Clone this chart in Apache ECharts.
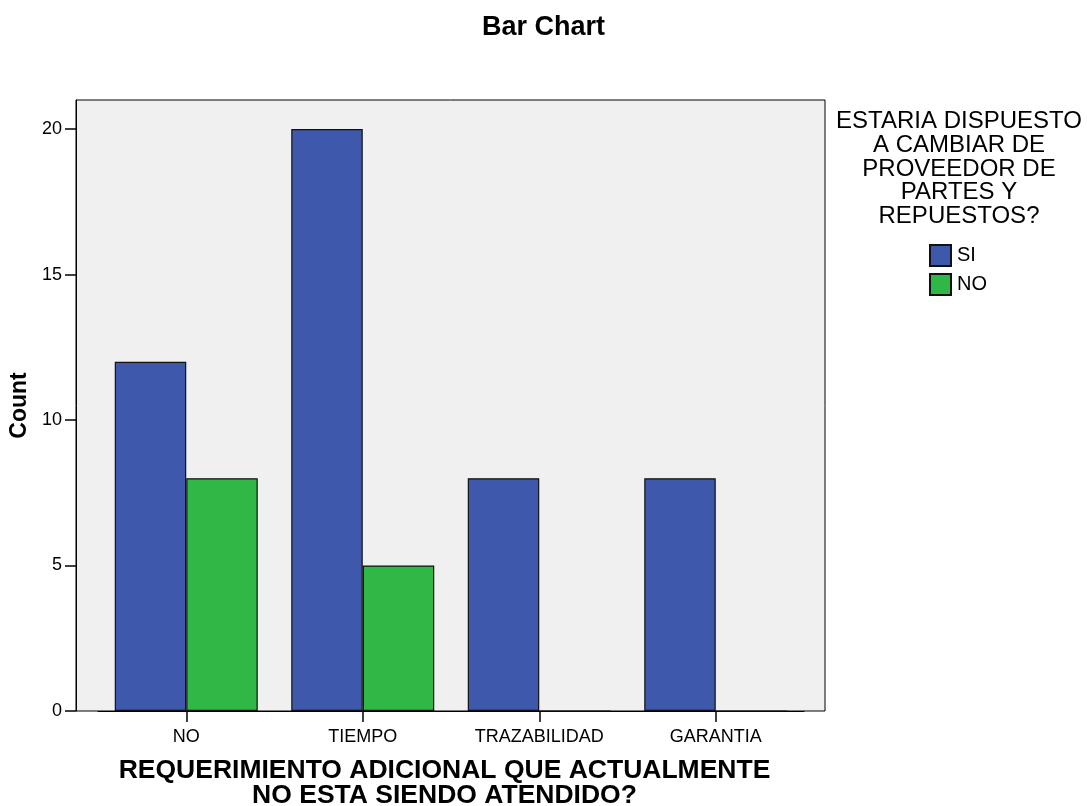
<!DOCTYPE html>
<html>
<head>
<meta charset="utf-8">
<style>html,body{margin:0;padding:0;background:#fff}#c{width:1087px;height:806px}</style>
<script src="https://cdn.jsdelivr.net/npm/echarts@6/dist/echarts.min.js"></script>
</head>
<body>
<div id="c"></div>
<script>
const categories = ['NO', 'TIEMPO', 'TRAZABILIDAD', 'GARANTIA'];
const seriesNames = ['SI', 'NO'];
const valuesSI = [12, 20, 8, 8];
const valuesNO = [8, 5, 0, 0];
const yTicks = [0, 5, 10, 15, 20];
const FONT = 'Liberation Sans, Arial, Helvetica, sans-serif';

const chart = echarts.init(document.getElementById('c'));
chart.setOption({
  animation: false,
  backgroundColor: '#fff',
  title: [
    { text: 'Bar Chart', left: 'center', top: 14, padding: 0,
      textStyle: { fontFamily: FONT, fontSize: 27, fontWeight: 'bold', color: '#000' } },
    { text: 'ESTARIA DISPUESTO\nA CAMBIAR DE\nPROVEEDOR DE\nPARTES Y\nREPUESTOS?',
      left: 959, top: 110, padding: 0, textAlign: 'center',
      textStyle: { fontFamily: FONT, fontSize: 24, fontWeight: 'normal', color: '#000', lineHeight: 23.6 } }
  ],
  legend: {
    orient: 'vertical', left: 929, top: 244, padding: 0,
    itemWidth: 21, itemHeight: 21, itemGap: 6,
    icon: 'rect',
    data: seriesNames,
    textStyle: { fontFamily: FONT, fontSize: 20, color: '#000', padding: [0, 0, 0, 1] }
  },
  grid: [
    { left: 76, right: 262, top: 100, bottom: 95, show: true, backgroundColor: '#f0f0f0',
      borderColor: '#000', borderWidth: 1, containLabel: false, outerBoundsMode: 'none' },
    { left: 98, right: 283, top: 100, bottom: 95, show: false, containLabel: false, outerBoundsMode: 'none' }
  ],
  xAxis: [
    { gridIndex: 0, type: 'value', min: 0, max: 1, show: false },
    { gridIndex: 1, type: 'category', data: categories,
      axisLine: { show: true, lineStyle: { color: '#000', width: 1 } },
      axisTick: { show: true, alignWithLabel: true, length: 11, lineStyle: { color: '#000', width: 1.5 } },
      axisLabel: { fontFamily: FONT, fontSize: 18, color: '#000', margin: 17 },
      name: 'REQUERIMIENTO ADICIONAL QUE ACTUALMENTE\nNO ESTA SIENDO ATENDIDO?',
      nameLocation: 'middle', nameGap: 47,
      nameTextStyle: { fontFamily: FONT, fontSize: 26.5, fontWeight: 'bold', color: '#000', lineHeight: 25, padding: [0, 13, 0, 0] }
    }
  ],
  yAxis: [
    { gridIndex: 0, type: 'value', min: 0, max: 21,
      axisLine: { show: true, lineStyle: { color: '#000', width: 1 } },
      axisTick: { show: true, length: 11, customValues: yTicks, lineStyle: { color: '#000', width: 1.5 } },
      axisLabel: { fontFamily: FONT, fontSize: 18, color: '#000', margin: 14, customValues: yTicks },
      splitLine: { show: false },
      name: 'Count', nameLocation: 'middle', nameRotate: 90, nameGap: 39,
      nameTextStyle: { fontFamily: FONT, fontSize: 23, fontWeight: 'bold', color: '#000' }
    },
    { gridIndex: 1, type: 'value', min: 0, max: 21, show: false, splitLine: { show: false } }
  ],
  series: [
    { name: seriesNames[0], type: 'bar', xAxisIndex: 1, yAxisIndex: 1, data: valuesSI,
      barWidth: 71.5, barGap: '0%',
      itemStyle: { color: '#3e58ac', borderColor: '#111', borderWidth: 1.2 } },
    { name: seriesNames[1], type: 'bar', xAxisIndex: 1, yAxisIndex: 1, data: valuesNO,
      barWidth: 71.5, barGap: '0%',
      itemStyle: { color: '#2fb846', borderColor: '#111', borderWidth: 1.2 } }
  ]
});
</script>
</body>
</html>
